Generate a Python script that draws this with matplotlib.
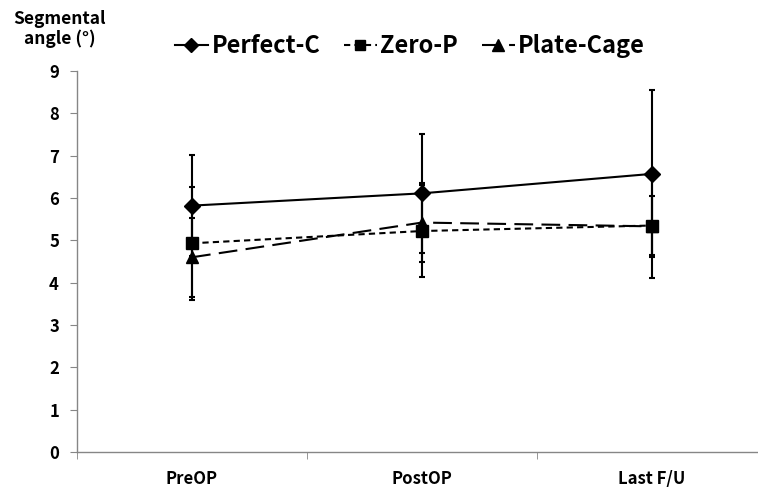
import numpy as np
import matplotlib
matplotlib.use('Agg')
import matplotlib.pyplot as plt
from matplotlib.lines import Line2D

plt.rcParams['font.family'] = ['Noto Sans CJK KR', 'DejaVu Sans']
plt.rcParams['font.weight'] = 'bold'

# data
stages = ['PreOP', 'PostOP', 'Last F/U']
perfect_c = [5.82, 6.11, 6.57]
perfect_c_err = [1.20, 1.41, 1.97]
zero_p = [4.93, 5.22, 5.35]
zero_p_err = [1.34, 1.08, 0.70]
plate_cage = [4.60, 5.42, 5.33]
plate_cage_err = [0.93, 0.93, 1.22]

x = np.arange(len(stages))

fig = plt.figure(figsize=(7.58, 4.90), dpi=100)
ax = fig.add_axes([77 / 758, 1 - 452 / 490, 690 / 758, 381 / 490])

common = dict(color='black', ecolor='black', elinewidth=1.5, capsize=2.5,
              capthick=1.5, linewidth=1.5)
styles = [('D', 8, '-'), ('s', 8, (0, (3, 2))), ('^', 9, (0, (9, 4)))]
series = [(perfect_c, perfect_c_err), (zero_p, zero_p_err),
          (plate_cage, plate_cage_err)]
for (vals, errs), (m, ms, ls) in zip(series, styles):
    ax.errorbar(x, vals, yerr=errs, marker=m, markersize=ms, linestyle=ls,
                **common)

ax.set_xlim(-0.5, 2.5)
ax.set_ylim(0, 9)
ax.set_yticks(range(10))
ax.set_xticks(x)
ax.set_xticklabels(stages)
ax.set_xticks([-0.5, 0.5, 1.5, 2.5], minor=True)

for s in ['top', 'right']:
    ax.spines[s].set_visible(False)
for s in ['left', 'bottom']:
    ax.spines[s].set_color('#868686')
    ax.spines[s].set_linewidth(1)

ax.tick_params(axis='y', direction='out', length=5, color='#868686',
               labelsize=12, pad=8)
ax.tick_params(axis='x', which='major', length=0, labelsize=12, pad=13)
ax.tick_params(axis='x', which='minor', direction='out', length=5,
               color='#868686')

fig.text(60 / 758, 1 - 29 / 490, 'Segmental\nangle (°)', ha='center',
         va='center', fontsize=12.5, fontweight='bold', linespacing=1.1)

# legend: plain line+marker handles, no error bars
handles = [Line2D([], [], color='black', marker=m, markersize=ms - 1,
                  linestyle=ls, linewidth=1.5) for m, ms, ls in styles]
fig.legend(handles, ['Perfect-C', 'Zero-P', 'Plate-Cage'],
           loc='center', bbox_to_anchor=(410 / 758, 1 - 46 / 490), ncol=3,
           frameon=False, handlelength=1.4, handletextpad=0.15,
           columnspacing=1.0, prop={'weight': 'bold', 'size': 17})

fig.savefig('out.png', dpi=100)
